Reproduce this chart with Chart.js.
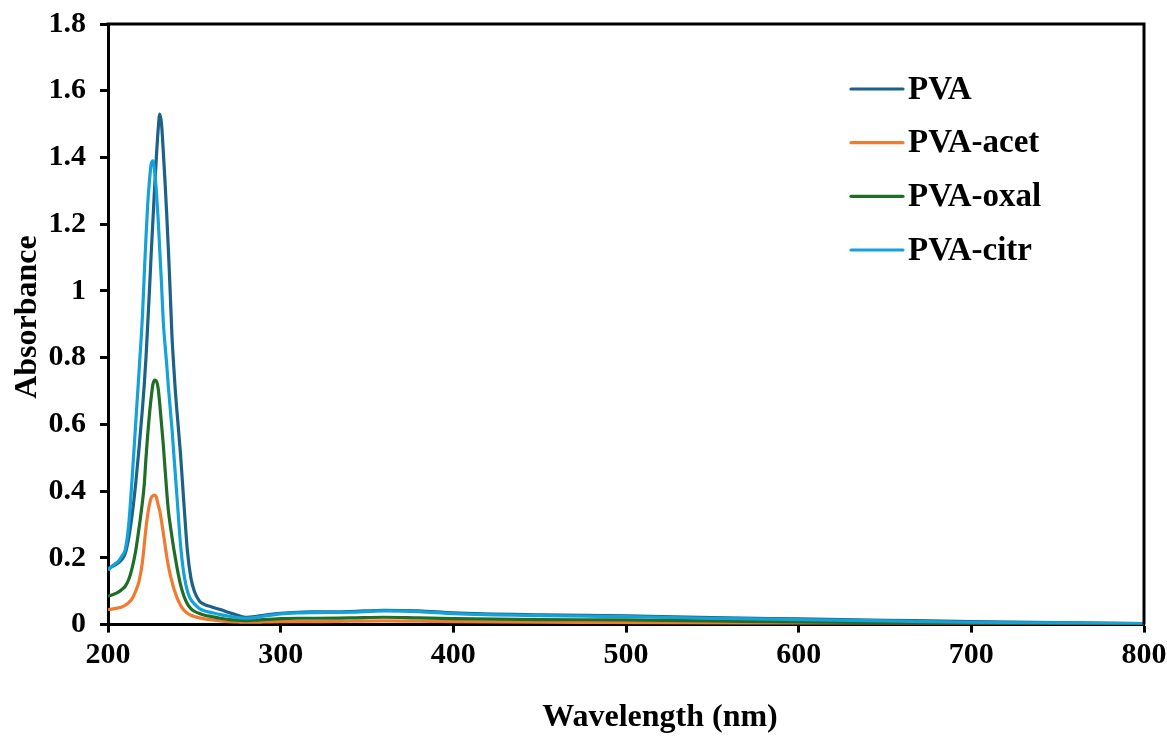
<!DOCTYPE html>
<html><head><meta charset="utf-8">
<script src="https://cdn.jsdelivr.net/npm/chart.js@4.4.0/dist/chart.umd.min.js"></script>
<style>html,body{margin:0;padding:0;background:#fff;}#wrap{position:relative;width:1167px;height:736px;}</style>
</head><body><div id="wrap"><canvas id="c" width="1167" height="736"></canvas></div>
<script>
const wavelengths = [200,203,206,208,210,212,214,216,218,220,221,222,223,224,225,226,227,228,229,230,231,232,233,234,235,236,237,238,239,240,242,244,246,248,250,253,256,260,265,270,275,280,285,290,300,310,320,340,360,380,400,450,500,550,600,650,700,750,800];
const pva = [0.168,0.175,0.185,0.195,0.214,0.26,0.33,0.42,0.53,0.65,0.72,0.80,0.90,1.00,1.11,1.21,1.31,1.40,1.48,1.53,1.50,1.42,1.33,1.23,1.12,1.00,0.87,0.78,0.70,0.635,0.51,0.36,0.22,0.14,0.10,0.07,0.06,0.053,0.045,0.036,0.028,0.022,0.024,0.028,0.034,0.037,0.038,0.039,0.043,0.041,0.035,0.029,0.026,0.021,0.017,0.013,0.009,0.006,0.003];
const pvaAcet = [0.045,0.047,0.05,0.053,0.058,0.066,0.078,0.10,0.13,0.19,0.24,0.29,0.33,0.36,0.38,0.386,0.388,0.382,0.36,0.34,0.31,0.275,0.24,0.205,0.175,0.15,0.13,0.11,0.095,0.08,0.058,0.043,0.034,0.028,0.024,0.02,0.017,0.014,0.011,0.009,0.008,0.007,0.007,0.008,0.009,0.009,0.009,0.01,0.011,0.01,0.009,0.007,0.006,0.004,0.003,0.002,0.002,0.001,0.001];
const pvaOxal = [0.085,0.09,0.097,0.105,0.115,0.135,0.17,0.22,0.29,0.37,0.42,0.50,0.57,0.63,0.68,0.72,0.733,0.73,0.71,0.66,0.60,0.54,0.47,0.40,0.34,0.30,0.265,0.23,0.20,0.17,0.12,0.085,0.062,0.048,0.04,0.033,0.028,0.024,0.019,0.015,0.013,0.012,0.013,0.015,0.018,0.019,0.019,0.02,0.022,0.02,0.018,0.015,0.014,0.011,0.008,0.006,0.004,0.003,0.002];
const pvaCitr = [0.163,0.178,0.19,0.205,0.225,0.30,0.44,0.60,0.76,0.93,1.05,1.16,1.26,1.33,1.38,1.39,1.36,1.30,1.22,1.12,1.02,0.91,0.84,0.78,0.71,0.65,0.59,0.52,0.45,0.38,0.24,0.15,0.10,0.075,0.062,0.048,0.041,0.036,0.03,0.025,0.021,0.019,0.021,0.025,0.032,0.035,0.036,0.037,0.041,0.039,0.033,0.027,0.024,0.019,0.015,0.011,0.007,0.005,0.003];
const seriesNames = ['PVA','PVA-acet','PVA-oxal','PVA-citr'];
const seriesColors = ['#1C6189','#F07B30','#1F6E28','#14A2DA'];
const xTickLabels = ['200','300','400','500','600','700','800'];
const yTickLabels = ['0','0.2','0.4','0.6','0.8','1','1.2','1.4','1.6','1.8'];
const xAxisTitle = 'Wavelength (nm)';
const yAxisTitle = 'Absorbance';

const FONT = "'Liberation Serif','Times New Roman',serif";
const seriesValues = [pva, pvaAcet, pvaOxal, pvaCitr];
const datasets = seriesValues.map((vals, i) => ({
  label: seriesNames[i],
  data: wavelengths.map((w, j) => ({x: w, y: vals[j]})),
  borderColor: seriesColors[i],
  backgroundColor: seriesColors[i],
  borderWidth: 3.2,
  pointRadius: 0,
  cubicInterpolationMode: 'monotone',
  fill: false,
  order: 4 - i
}));

function zeroPad(s) { s.paddingTop = 0; s.paddingBottom = 0; s.paddingLeft = 0; s.paddingRight = 0; }

const framePlugin = {
  id: 'frame',
  afterDatasetsDraw(chart) {
    const {ctx, chartArea: a} = chart;
    ctx.save();
    ctx.strokeStyle = '#000';
    ctx.lineWidth = 3;
    ctx.beginPath();
    ctx.moveTo(a.left - 1.5, a.top);
    ctx.lineTo(a.right, a.top);
    ctx.lineTo(a.right, a.bottom);
    ctx.stroke();
    ctx.restore();
  },
  afterDraw(chart) {
    const {ctx} = chart;
    ctx.save();
    ctx.font = "bold 33px " + FONT;
    ctx.textAlign = 'left';
    ctx.textBaseline = 'middle';
    const rows = [89, 142.7, 196.3, 250];
    chart.data.datasets.forEach((ds, i) => {
      const y = rows[i];
      ctx.strokeStyle = ds.borderColor;
      ctx.lineWidth = 3.2;
      ctx.lineCap = 'round';
      ctx.beginPath();
      ctx.moveTo(851, y);
      ctx.lineTo(903, y);
      ctx.stroke();
      ctx.fillStyle = '#000';
      ctx.fillText(ds.label, 908, y + 1);
    });
    ctx.font = "bold 32px " + FONT;
    ctx.textAlign = 'center';
    ctx.fillText(xAxisTitle, 660, 718);
    ctx.translate(28, 317);
    ctx.rotate(-Math.PI / 2);
    ctx.fillText(yAxisTitle, 0, 0);
    ctx.restore();
  }
};

new Chart(document.getElementById('c'), {
  type: 'line',
  data: {datasets},
  options: {
    responsive: false,
    animation: false,
    devicePixelRatio: 1,
    layout: {padding: {top: 24, right: 23, left: 0, bottom: 0}},
    plugins: {legend: {display: false}, tooltip: {enabled: false}},
    scales: {
      x: {
        type: 'linear', min: 200, max: 800,
        afterFit(s) { s.height = 111.4; zeroPad(s); },
        afterBuildTicks(s) { s.ticks = xTickLabels.map(t => ({value: Number(t)})); },
        ticks: {
          autoSkip: false, maxRotation: 0, padding: 5, color: '#000',
          font: {family: FONT, size: 30, weight: 'bold'},
          callback: (v) => { const k = xTickLabels.indexOf(String(v)); return k >= 0 ? xTickLabels[k] : ''; }
        },
        grid: {drawOnChartArea: false, drawTicks: true, tickLength: 8, tickWidth: 3, tickColor: '#000'},
        border: {display: true, width: 3, color: '#000'}
      },
      y: {
        type: 'linear', min: 0, max: 1.8,
        afterFit(s) { s.width = 108; zeroPad(s); },
        afterBuildTicks(s) { s.ticks = yTickLabels.map(t => ({value: Number(t)})); },
        ticks: {
          autoSkip: false, padding: 14, color: '#000',
          font: {family: FONT, size: 30, weight: 'bold'},
          callback: (v, i) => yTickLabels[i]
        },
        grid: {drawOnChartArea: false, drawTicks: true, tickLength: 8, tickWidth: 3, tickColor: '#000'},
        border: {display: true, width: 3, color: '#000'},
        title: {display: false, text: yAxisTitle}
      }
    }
  },
  plugins: [framePlugin]
});
</script></body></html>
